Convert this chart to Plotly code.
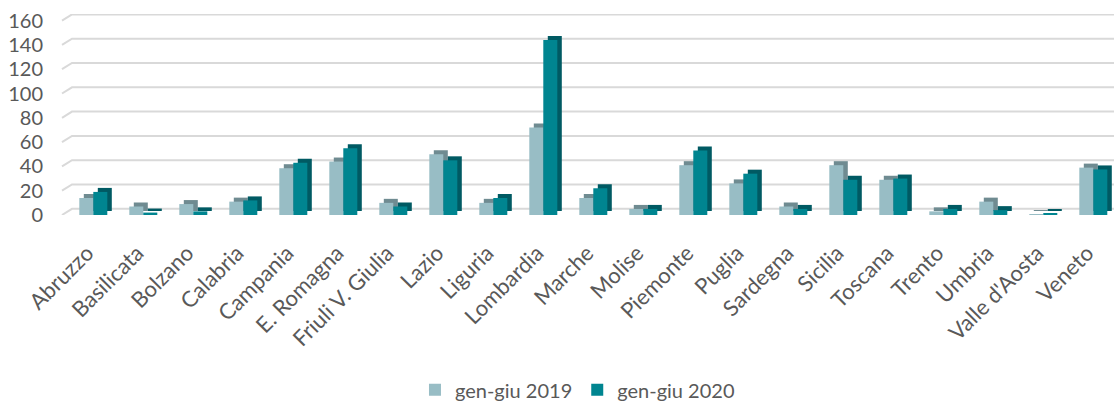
import plotly.graph_objects as go

regions = ["Abruzzo", "Basilicata", "Bolzano", "Calabria", "Campania", "E. Romagna",
           "Friuli V. Giulia", "Lazio", "Liguria", "Lombardia", "Marche", "Molise",
           "Piemonte", "Puglia", "Sardegna", "Sicilia", "Toscana", "Trento", "Umbria",
           "Valle d'Aosta", "Veneto"]
gen_giu_2019 = [14, 7, 9, 11, 38.5, 44, 10, 50, 10, 72, 14, 5, 41, 26, 7, 41, 29, 3, 11, 0.4, 39]
gen_giu_2020 = [19, 2, 3, 12, 43, 55, 7, 45, 14, 144, 22, 5, 53, 34, 5, 29, 30, 5, 4, 1, 37.5]
y_ticks = [0, 20, 40, 60, 80, 100, 120, 140, 160]

FRONT_19 = "#98BDC5"
DEPTH_19 = "#6F8B91"
FRONT_20 = "#008590"
DEPTH_20 = "#005A63"
TEXT = "#595959"

W = 0.28      # front face width (category units)
DX = 0.09     # depth offset x (category units)
DY = 3.3      # depth offset y (value units)
BACK = 5.1    # back-wall offset of gridlines (value units)

fig = go.Figure()
# depth faces first (drawn underneath the front faces)
fig.add_trace(go.Bar(x=regions, y=gen_giu_2019, base=DY, offset=-W + DX, width=W,
                     marker=dict(color=DEPTH_19, line=dict(width=0)),
                     showlegend=False, hoverinfo="skip"))
fig.add_trace(go.Bar(x=regions, y=gen_giu_2019, offset=-W, width=W, name="gen-giu 2019",
                     marker=dict(color=FRONT_19, line=dict(width=0))))
fig.add_trace(go.Bar(x=regions, y=gen_giu_2020, base=DY, offset=DX, width=W,
                     marker=dict(color=DEPTH_20, line=dict(width=0)),
                     showlegend=False, hoverinfo="skip"))
fig.add_trace(go.Bar(x=regions, y=gen_giu_2020, offset=0, width=W, name="gen-giu 2020",
                     marker=dict(color=FRONT_20, line=dict(width=0))))

# gridlines on the back wall with the short side-wall diagonal
wall = 10 / 1052
shapes = []
for v in y_ticks:
    shapes.append(dict(type="path", xref="paper", yref="y", layer="below",
                       path=f"M 0,{v} L {wall},{v + BACK} L 1,{v + BACK}",
                       line=dict(color="#D9D9D9", width=2)))

left_px = 62
step_px = 50
first_center_px = 93.3
plot_w = 1114 - left_px
x0 = (left_px - first_center_px) / step_px
x1 = x0 + plot_w / step_px

fig.update_layout(
    width=1114, height=405,
    margin=dict(l=left_px, r=0, t=14, b=190, autoexpand=False),
    paper_bgcolor="white", plot_bgcolor="white",
    barmode="overlay",
    shapes=shapes,
    font=dict(family="Lato, sans-serif", color=TEXT),
    xaxis=dict(range=[x0, x1], tickangle=-45, tickfont=dict(size=22, color=TEXT),
               showgrid=False, showline=False, zeroline=False, ticks="",
               ticklabelstandoff=20, ticklabelshift=-6, fixedrange=True, automargin=False),
    yaxis=dict(range=[0, 201 / 1.215], tickvals=y_ticks, tickfont=dict(size=20, color=TEXT),
               showgrid=False, showline=False, zeroline=False, ticks="",
               ticklabelstandoff=18, fixedrange=True, automargin=False),
    legend=dict(orientation="h", x=0.49, xanchor="center", y=-0.87, yanchor="middle",
                font=dict(size=20, color=TEXT), itemwidth=30, bgcolor="rgba(0,0,0,0)"),
    showlegend=True,
)

fig.write_html("out.html", config={"displayModeBar": False},
               post_script="document.body.style.margin='0px';")
